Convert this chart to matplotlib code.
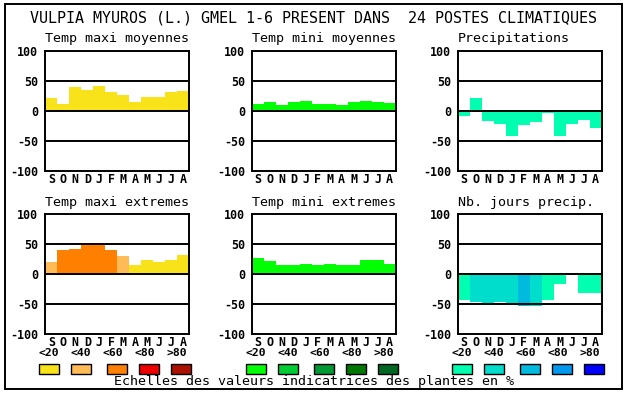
import matplotlib
matplotlib.use("Agg")
import matplotlib.pyplot as plt
from matplotlib.patches import Rectangle

months = ["S", "O", "N", "D", "J", "F", "M", "A", "M", "J", "J", "A"]
yticks = [100, 50, 0, -50, -100]
title = "VULPIA MYUROS (L.) GMEL 1-6 PRESENT DANS  24 POSTES CLIMATIQUES"
footer = "Echelles des valeurs indicatrices des plantes en %"
class_labels = ["<20", "<40", "<60", "<80", ">80"]

scale_yellow = ["#F8E21A", "#FFBB55", "#FF8000", "#EE0000", "#AA1100"]
scale_green = ["#00FF00", "#00CC33", "#009933", "#007700", "#006622"]
scale_cyan = ["#00FFB0", "#00DDCC", "#00BBDD", "#0099EE", "#0000FF"]

titles = ["Temp maxi moyennes", "Temp mini moyennes", "Precipitations",
          "Temp maxi extremes", "Temp mini extremes", "Nb. jours precip."]

tmax_moy = [22, 12, 40, 35, 42, 32, 27, 15, 24, 24, 32, 34]
tmax_moy_cls = [0] * 12
tmin_moy = [12, 15, 10, 15, 17, 12, 12, 10, 15, 17, 15, 14]
tmin_moy_cls = [0] * 12
precip = [-8, 22, -16, -21, -41, -24, -18, -4, -41, -21, -15, -28]
precip_cls = [0] * 12
tmax_ext = [20, 40, 42, 52, 52, 40, 30, 15, 24, 20, 24, 32]
tmax_ext_cls = [1, 2, 2, 2, 2, 2, 1, 0, 0, 0, 0, 0]
tmin_ext = [27, 22, 15, 15, 17, 15, 17, 15, 15, 24, 24, 17]
tmin_ext_cls = [0] * 12
jours = [-44, -46, -52, -47, -52, -54, -54, -44, -16, 2, -32, -31]
jours_cls = [0, 1, 1, 1, 1, 2, 1, 0, 0, 0, 0, 0]

series = [(tmax_moy, tmax_moy_cls, scale_yellow),
          (tmin_moy, tmin_moy_cls, scale_green),
          (precip, precip_cls, scale_cyan),
          (tmax_ext, tmax_ext_cls, scale_yellow),
          (tmin_ext, tmin_ext_cls, scale_green),
          (jours, jours_cls, scale_cyan)]

W, H = 630, 394
fig = plt.figure(figsize=(W / 100, H / 100), dpi=100)
fig.patch.set_facecolor("white")

MONO = "DejaVu Sans Mono"
col_left = [45.3, 251.7, 457.7]
row_top = [51, 214]
aw, ah = 144, 120

axes = []
for i, (vals, cls, scale) in enumerate(series):
    r, c = divmod(i, 3)
    l = col_left[c]
    t = row_top[r]
    ax = fig.add_axes([l / W, 1 - (t + ah) / H, aw / W, ah / H])
    x = [k + 0.5 for k in range(len(vals))]
    ax.bar(x, vals, width=1.0, color=[scale[k] for k in cls],
           edgecolor="none", linewidth=0, zorder=1)
    for yv in (50, 0, -50):
        ax.axhline(yv, color="black", lw=1.4, zorder=3)
    ax.set_xlim(0, 12)
    ax.set_ylim(-100, 100)
    ax.set_yticks(yticks)
    ax.set_yticklabels([str(v) for v in yticks], fontfamily=MONO,
                       fontweight="bold", fontsize=8.4)
    ax.set_xticks(x)
    ax.set_xticklabels(months, fontfamily=MONO, fontweight="bold", fontsize=8.4)
    ax.tick_params(length=0, pad=5, axis="y")
    ax.tick_params(length=0, pad=1.5, axis="x")
    for s in ax.spines.values():
        s.set_linewidth(1.4)
        s.set_zorder(4)
    axes.append(ax)

# overlay in pixel coordinates
ov = fig.add_axes([0, 0, 1, 1], zorder=10)
ov.set_xlim(0, W)
ov.set_ylim(H, 0)
ov.axis("off")
ov.patch.set_alpha(0)

ov.add_patch(Rectangle((5, 4), 617, 385, fill=False, edgecolor="black", lw=1.4))
ov.text(314, 18, title, ha="center", va="center", fontfamily=MONO, fontsize=10.8)

for i, tt in enumerate(titles):
    r, c = divmod(i, 3)
    y = 38.5 if r == 0 else 202.5
    ov.text(col_left[c], y, tt, ha="left", va="center", fontfamily=MONO, fontsize=9.6)

scales = [scale_yellow, scale_green, scale_cyan]
label_off = [4, 36, 68, 100, 132]
box_off = [4, 36, 72, 104, 136]
for c in range(3):
    l = col_left[c]
    for k in range(5):
        ov.text(l + label_off[k], 353.5, class_labels[k], ha="center", va="center",
                fontfamily=MONO, fontweight="bold", fontsize=8.2)
        ov.add_patch(Rectangle((l + box_off[k] - 10, 364), 20, 10,
                               facecolor=scales[c][k], edgecolor="black", lw=1.0))

ov.text(314.5, 382, footer, ha="center", va="center", fontfamily=MONO, fontsize=9.6)

fig.savefig("out.png", dpi=100, facecolor="white")
